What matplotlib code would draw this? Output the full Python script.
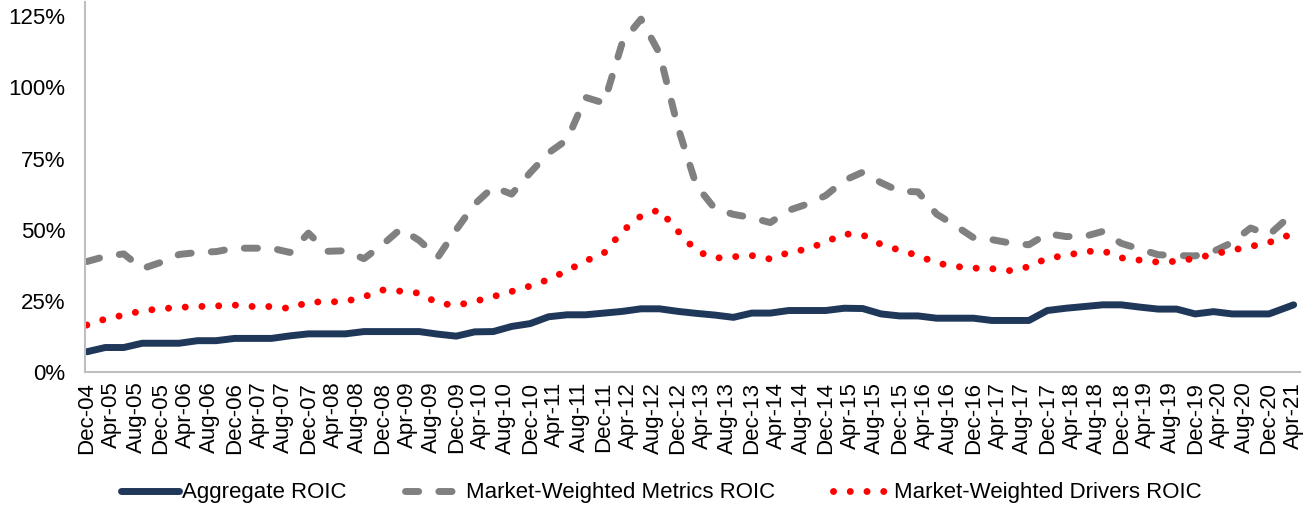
import numpy as np
import pandas as pd
import matplotlib
matplotlib.use("Agg")
import matplotlib.pyplot as plt
from matplotlib.ticker import FuncFormatter

plt.rcParams['font.family'] = ['Liberation Sans', 'DejaVu Sans']

# quarter ends Dec-04 .. Dec-20, plus the latest reading (Apr-21)
dates = list(pd.date_range('2004-12-31', '2020-12-31', freq='QE')) + [pd.Timestamp('2021-04-30')]

aggregate_roic = [7.1, 8.6, 8.6, 10.1, 10.1, 10.1, 11.0, 11.0, 11.8, 11.8,
                  11.8, 12.7, 13.4, 13.4, 13.4, 14.2, 14.2, 14.2, 14.2, 13.3,
                  12.6, 14.1, 14.2, 16.0, 17.0, 19.4, 20.1, 20.1, 20.7, 21.3,
                  22.2, 22.2, 21.3, 20.6, 20.0, 19.2, 20.7, 20.7, 21.6, 21.6,
                  21.6, 22.4, 22.3, 20.4, 19.7, 19.7, 18.9, 18.9, 18.9, 18.1,
                  18.1, 18.1, 21.6, 22.4, 23.0, 23.6, 23.6, 22.8, 22.1, 22.1,
                  20.4, 21.2, 20.4, 20.4, 20.4, 23.6]

metrics_roic = [38.8, 40.6, 41.5, 36.3, 38.5, 41.3, 42.0, 42.3, 43.5, 43.5,
                43.5, 42.0, 48.8, 42.4, 42.6, 39.8, 44.7, 50.3, 46.2, 40.3,
                50.0, 59.0, 65.0, 62.5, 70.0, 77.0, 81.6, 96.5, 94.5, 116.0,
                124.0, 112.0, 86.0, 65.5, 57.4, 55.4, 54.2, 52.5, 56.8, 59.0,
                62.0, 67.3, 70.2, 66.5, 63.5, 63.3, 55.5, 51.5, 47.2, 46.5,
                45.3, 44.7, 48.6, 47.6, 47.6, 49.4, 45.2, 43.2, 41.2, 40.9,
                40.8, 42.4, 45.5, 50.6, 48.2, 56.0]

drivers_roic = [16.5, 18.6, 20.0, 21.5, 22.2, 22.7, 23.0, 23.2, 23.5, 23.0,
                23.0, 22.3, 24.6, 24.6, 24.8, 26.4, 28.8, 28.4, 27.7, 24.2,
                23.4, 24.8, 26.5, 28.3, 30.2, 32.5, 35.6, 39.0, 41.8, 49.5,
                54.8, 57.0, 49.5, 42.5, 40.0, 40.5, 40.9, 39.7, 42.0, 43.2,
                45.7, 48.5, 48.2, 44.8, 42.8, 40.9, 38.3, 37.1, 36.5, 36.3,
                35.6, 37.0, 40.0, 40.9, 42.3, 42.6, 40.1, 39.3, 38.6, 38.9,
                39.9, 41.4, 42.8, 44.1, 45.5, 48.7]

tick_dates = pd.date_range('2004-12-01', '2021-04-01', freq='4MS')


def month_index(d):
    return (d.year - 2004) * 12 + d.month - 12


x = np.array([month_index(d) for d in dates])
tick_x = [month_index(d) for d in tick_dates]
tick_labels = [d.strftime('%b-%y') for d in tick_dates]

fig = plt.figure(figsize=(13.07, 5.07), dpi=100)
ax = fig.add_axes([0.065, 0.2663, 0.9295, 0.7297])

lw = 5
ax.plot(x, aggregate_roic, color='#1f3759', lw=lw, solid_capstyle='round',
        solid_joinstyle='round', label='Aggregate ROIC')
ax.plot(x, metrics_roic, color='#808080', lw=lw, linestyle=(0, (1.9, 2.9)),
        dash_capstyle='round', dash_joinstyle='round',
        label='Market-Weighted Metrics ROIC')
ax.plot(x, drivers_roic, color='#ff0000', lw=lw, linestyle=(0, (0.01, 2.4)),
        dash_capstyle='round', label='Market-Weighted Drivers ROIC')

ax.set_xlim(-0.3, 197)
ax.set_ylim(0, 130)
ax.set_yticks([0, 25, 50, 75, 100, 125])
ax.yaxis.set_major_formatter(FuncFormatter(lambda v, p: f'{v:.0f}%'))
ax.set_xticks(tick_x)
ax.set_xticklabels(tick_labels, rotation=90)
ax.tick_params(axis='y', length=0, pad=14, labelsize=16)
ax.tick_params(axis='x', length=0, pad=7, labelsize=16)

for side in ['top', 'right']:
    ax.spines[side].set_visible(False)
for side in ['left', 'bottom']:
    ax.spines[side].set_color('#bfbfbf')
    ax.spines[side].set_linewidth(1.5)

fig.legend(loc='center', bbox_to_anchor=(0.506, 0.028), ncol=3, frameon=False,
           fontsize=16, handlelength=2.6, handletextpad=0.15, columnspacing=2.6)

fig.savefig('out.png', dpi=100)
